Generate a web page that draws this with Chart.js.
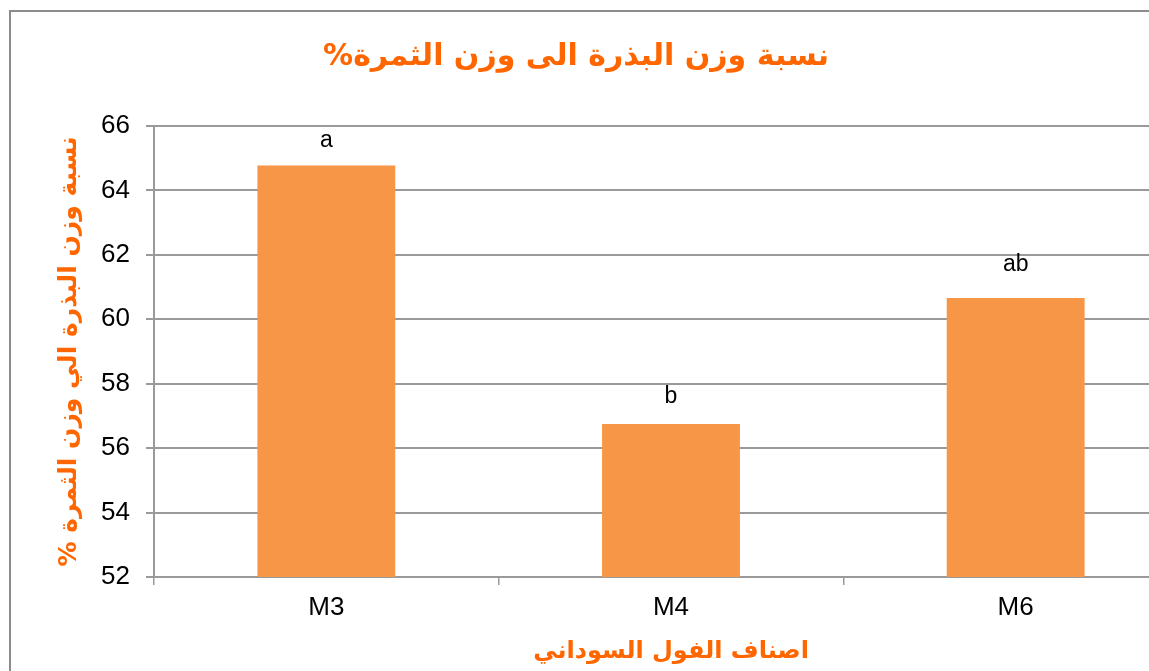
<!DOCTYPE html>
<html>
<head>
<meta charset="utf-8">
<script src="https://cdn.jsdelivr.net/npm/chart.js@4"></script>
<style>
  body { margin: 0; overflow: hidden; background: #fff; }
  #wrap { position: absolute; left: 0; top: 0; width: 1240px; height: 700px; }
</style>
</head>
<body>
<div id="wrap"><canvas id="seedChart"></canvas></div>
<script>
// seed weight / fruit weight ratio
const varieties = ['M3', 'M4', 'M6'];
const seedRatio = [64.77, 56.75, 60.66];
const letters = ['a', 'b', 'ab'];
const letterAt = [65.35, 57.4, 61.5];   // top of (hidden) error bars
const yTicks = [52, 54, 56, 58, 60, 62, 64, 66];

// RLM keeps the % at the end of the right-to-left text
const chartTitle = 'نسبة وزن البذرة الى وزن الثمرة%\u200F';
const yTitle = 'نسبة وزن البذرة الي وزن الثمرة %\u200F';
const xTitle = 'اصناف الفول السوداني';

const orange = '#ff6600';
const gridGray = '#9a9a9a';
const arabicFont = "'DejaVu Sans', sans-serif";
const latinFont = "'Liberation Sans', Arial, sans-serif";

// frame + title + letters
const extras = {
  id: 'extras',
  beforeDraw(chart) {
    const ctx = chart.ctx;
    ctx.save();
    ctx.fillStyle = '#fff';
    ctx.fillRect(0, 0, chart.width, chart.height);
    ctx.strokeStyle = '#8c8c8c';
    ctx.lineWidth = 2;
    ctx.strokeRect(10, 11, chart.width + 20, chart.height + 20);
    ctx.restore();
  },
  afterDraw(chart) {
    const ctx = chart.ctx;
    ctx.save();
    ctx.fillStyle = orange;
    ctx.font = "bold 30px " + arabicFont;
    ctx.textAlign = 'center';
    ctx.textBaseline = 'middle';
    ctx.fillText(chartTitle, 576, 57);

    const meta = chart.getDatasetMeta(0);
    const y = chart.scales.y;
    ctx.fillStyle = '#000';
    ctx.font = '23px ' + latinFont;
    ctx.textBaseline = 'alphabetic';
    meta.data.forEach((bar, i) => {
      ctx.fillText(letters[i], bar.x, y.getPixelForValue(letterAt[i]));
    });
    ctx.restore();
  }
};

const config = {
  type: 'bar',
  data: {
    labels: varieties,
    datasets: [{
      label: 'seed %',
      data: seedRatio,
      backgroundColor: '#f79646',
      borderWidth: 0,
      barPercentage: 0.4,
      categoryPercentage: 1.0
    }]
  },
  options: {
    responsive: true,
    maintainAspectRatio: false,
    animation: false,
    layout: { padding: { top: 126, left: 0, right: 52, bottom: 0 } },
    plugins: {
      legend: { display: false },
      tooltip: { enabled: false },
      title: { display: false }
    },
    scales: {
      x: {
        afterFit(scale) { scale.height = 123; },
        grid: {
          offset: true,
          drawOnChartArea: false,
          color: gridGray,
          lineWidth: 1.5,
          tickLength: 8
        },
        border: { color: gridGray, width: 2 },
        ticks: { color: '#000', font: { family: latinFont, size: 26 }, padding: 7 },
        title: {
          display: true,
          text: xTitle,
          color: orange,
          font: { family: arabicFont, size: 24, weight: 'bold' },
          padding: { top: 0, bottom: 34 }
        }
      },
      y: {
        min: 52,
        max: 66,
        afterFit(scale) { scale.width = 154; },
        afterBuildTicks(scale) { scale.ticks = yTicks.map(v => ({ value: v })); },
        grid: { color: gridGray, lineWidth: 2, tickLength: 8 },
        border: { color: gridGray, width: 2 },
        ticks: { color: '#000', font: { family: latinFont, size: 26 }, padding: 16 },
        title: {
          display: true,
          text: yTitle,
          color: orange,
          font: { family: arabicFont, size: 25, weight: 'bold' },
          padding: { top: 54, bottom: 0 }
        }
      }
    }
  },
  plugins: [extras]
};

const seedChart = new Chart(document.getElementById('seedChart'), config);
</script>
</body>
</html>
